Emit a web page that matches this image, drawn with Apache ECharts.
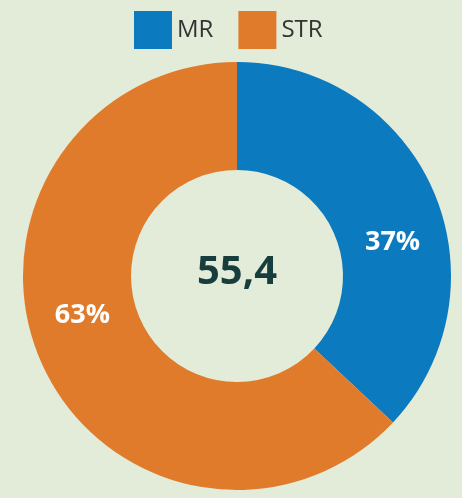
<!DOCTYPE html>
<html>
<head>
<meta charset="utf-8">
<script src="https://cdn.jsdelivr.net/npm/echarts@6/dist/echarts.min.js"></script>
<style>
  html, body { margin: 0; padding: 0; background: #e3ecd9; }
  #main { width: 462px; height: 498px; }
</style>
</head>
<body>
<div id="main"></div>
<script>
// share data
const categories = ['MR', 'STR']
const shares = [37, 63]
const centerValue = '55,4'
const colors = ['#0b7abf', '#e07b2b']

const chart = echarts.init(document.getElementById('main'), null, { renderer: 'canvas' })

// nudge the percent labels a bit like the original
const labelShift = [[6, 31], [-5, -25]]

const option = {
    backgroundColor: '#e3ecd9',
    color: colors,
    legend: {
        data: categories,
        top: 6,
        left: 129,
        icon: 'rect',
        itemWidth: 38,
        itemHeight: 38,
        itemGap: 25,
        selectedMode: false,
        textStyle: {
            fontFamily: 'Open Sans',
            fontSize: 24,
            color: '#333'
        }
    },
    title: {
        text: centerValue,
        left: 232,
        textAlign: 'center',
        top: 248,
        textStyle: {
            fontFamily: 'Open Sans',
            fontWeight: 'bold',
            fontSize: 40,
            color: '#173e3d'
        }
    },
    series: [{
        type: 'pie',
        center: [237, 276],
        radius: [106, 214],
        startAngle: 90,
        clockwise: true,
        silent: true,
        label: {
            show: true,
            position: 'inside',
            formatter: '{c}%',
            color: '#fff',
            fontFamily: 'Open Sans',
            fontWeight: 'bold',
            fontSize: 27
        },
        labelLayout: function (params) {
            const s = labelShift[params.dataIndex]
            return { dx: s[0], dy: s[1] }
        },
        labelLine: { show: false },
        data: categories.map(function (name, i) {
            return { name: name, value: shares[i] }
        })
    }]
}

chart.setOption(option)
</script>
</body>
</html>
